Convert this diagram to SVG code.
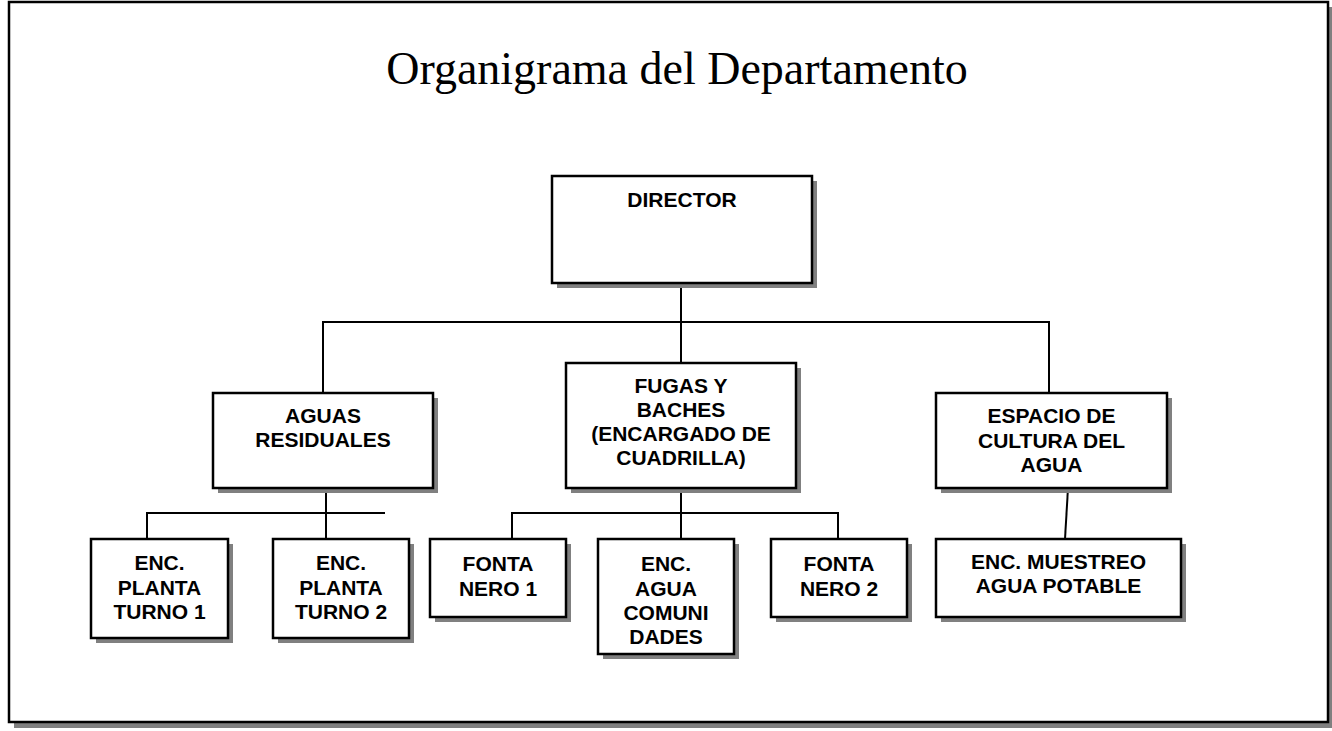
<svg xmlns="http://www.w3.org/2000/svg" width="1332" height="731" viewBox="0 0 1332 731">
<style>
.frame{fill:#fff;stroke:#000;stroke-width:2.5}
.shadow{fill:#808080}
.box{fill:#fff;stroke:#000;stroke-width:2.5}
.lbl{font-family:"Liberation Sans",Arial,sans-serif;font-weight:bold;font-size:21px;fill:#000;text-anchor:middle}
.title{font-family:"Liberation Serif","Times New Roman",serif;font-size:46px;fill:#000;text-anchor:middle}
.conn{fill:none;stroke:#000;stroke-width:2}
</style>
<rect width="1332" height="731" fill="#fff"/>
<g id="frame">
<rect class="shadow" x="14" y="7" width="1319" height="721"/>
<rect class="frame" x="9" y="2" width="1319" height="720"/>
<text class="title" x="677" y="84">Organigrama del Departamento</text>
</g>
<g id="connectors">
<path class="conn" d="M681,283 V363 M323,393 V322 H1049 V393"/>
<path class="conn" d="M326,488 V539 M147,539 V513 H385"/>
<path class="conn" d="M681,488 V539 M512,539 V513 H838 V539"/>
<path class="conn" d="M1068,488 L1065,539"/>
</g>
<g id="director">
<rect class="shadow" x="557" y="181" width="260" height="107"/>
<rect class="box" x="552" y="176" width="260" height="107"/>
<text class="lbl" x="682" y="207">DIRECTOR</text>
</g>
<g id="aguas">
<rect class="shadow" x="218" y="398" width="220" height="95"/>
<rect class="box" x="213" y="393" width="220" height="95"/>
<text class="lbl" x="323" y="423">AGUAS</text>
<text class="lbl" x="323" y="447">RESIDUALES</text>
</g>
<g id="fugas">
<rect class="shadow" x="571" y="368" width="230" height="125"/>
<rect class="box" x="566" y="363" width="230" height="125"/>
<text class="lbl" x="681" y="393">FUGAS Y</text>
<text class="lbl" x="681" y="417">BACHES</text>
<text class="lbl" x="681" y="441">(ENCARGADO DE</text>
<text class="lbl" x="681" y="465">CUADRILLA)</text>
</g>
<g id="espacio">
<rect class="shadow" x="941" y="398" width="231" height="95"/>
<rect class="box" x="936" y="393" width="231" height="95"/>
<text class="lbl" x="1051.5" y="423">ESPACIO DE</text>
<text class="lbl" x="1051.5" y="448">CULTURA DEL</text>
<text class="lbl" x="1051.5" y="472">AGUA</text>
</g>
<g id="planta1">
<rect class="shadow" x="96" y="544" width="137" height="99"/>
<rect class="box" x="91" y="539" width="137" height="99"/>
<text class="lbl" x="159.5" y="570">ENC.</text>
<text class="lbl" x="159.5" y="594.5">PLANTA</text>
<text class="lbl" x="159.5" y="619">TURNO 1</text>
</g>
<g id="planta2">
<rect class="shadow" x="278" y="544" width="136" height="99"/>
<rect class="box" x="273" y="539" width="136" height="99"/>
<text class="lbl" x="341" y="570">ENC.</text>
<text class="lbl" x="341" y="594.5">PLANTA</text>
<text class="lbl" x="341" y="619">TURNO 2</text>
</g>
<g id="fontanero1">
<rect class="shadow" x="435" y="544" width="136" height="78"/>
<rect class="box" x="430" y="539" width="136" height="78"/>
<text class="lbl" x="498" y="571">FONTA</text>
<text class="lbl" x="498" y="596">NERO 1</text>
</g>
<g id="comunidades">
<rect class="shadow" x="603" y="544" width="136" height="115"/>
<rect class="box" x="598" y="539" width="136" height="115"/>
<text class="lbl" x="666" y="571">ENC.</text>
<text class="lbl" x="666" y="596">AGUA</text>
<text class="lbl" x="666" y="620">COMUNI</text>
<text class="lbl" x="666" y="644">DADES</text>
</g>
<g id="fontanero2">
<rect class="shadow" x="776" y="544" width="136" height="78"/>
<rect class="box" x="771" y="539" width="136" height="78"/>
<text class="lbl" x="839" y="571">FONTA</text>
<text class="lbl" x="839" y="596">NERO 2</text>
</g>
<g id="muestreo">
<rect class="shadow" x="941" y="544" width="245" height="78"/>
<rect class="box" x="936" y="539" width="245" height="78"/>
<text class="lbl" x="1058.5" y="568.5">ENC. MUESTREO</text>
<text class="lbl" x="1058.5" y="593">AGUA POTABLE</text>
</g>
</svg>
